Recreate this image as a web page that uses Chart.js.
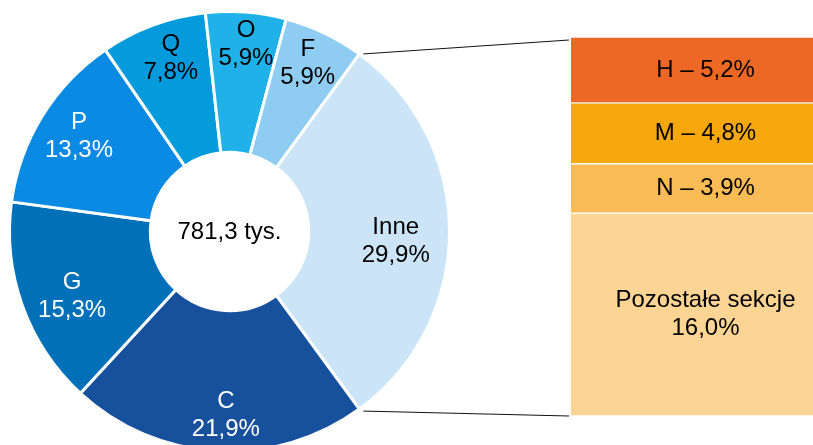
<!DOCTYPE html>
<html>
<head>
<meta charset="utf-8">
<script src="https://cdn.jsdelivr.net/npm/chart.js@4.4.1/dist/chart.umd.min.js"></script>
<style>
  html, body { margin: 0; padding: 0; background: #fff; overflow: hidden; width: 813px; height: 445px; }
  canvas { position: absolute; left: 0; top: 0; }
</style>
</head>
<body>
<canvas id="donut" width="813" height="470"></canvas>
<canvas id="bar" width="840" height="445"></canvas>
<script>
const sections = ['Inne', 'C', 'G', 'P', 'Q', 'O', 'F'];
const shares = [29.9, 21.9, 15.3, 13.3, 7.8, 5.9, 5.9];
const otherSections = ['H', 'M', 'N', 'Pozostałe sekcje'];
const otherShares = [5.2, 4.8, 3.9, 16.0];
const totalLabel = '781,3 tys.';

const sliceColors = ['#cce4f7', '#17519e', '#0070b8', '#0a8ae2', '#049bdc', '#1fb1e7', '#8ecdf1'];
const sliceText = ['#000', '#fff', '#fff', '#fff', '#000', '#000', '#000'];
// label placement inside the ring: depth (0 = inner edge, 1 = outer) and angle nudge in degrees
const labelDepth = [0.62, 0.744, 0.646, 0.703, 0.734, 0.774, 0.754];
const labelTurn = [3.3, -2.1, -2.5, 0.7, 1.6, 0.7, -0.6];
const barColors = ['#ec6824', '#f5a70b', '#f8bb56', '#fcd493'];

const FONT = '24px "Liberation Sans", Arial, sans-serif';
const fmt = v => v.toFixed(1).replace('.', ',') + '%';

// "Inne" centred at 3 o'clock
const rotation = 90 - shares[0] / 100 * 180;

const sliceLabels = {
  id: 'sliceLabels',
  afterDatasetsDraw(chart) {
    const ctx = chart.ctx;
    const arcs = chart.getDatasetMeta(0).data;
    ctx.save();
    ctx.font = FONT;
    ctx.textAlign = 'center';
    ctx.textBaseline = 'middle';
    arcs.forEach((arc, i) => {
      const p = arc.getProps(['x', 'y', 'startAngle', 'endAngle', 'innerRadius', 'outerRadius'], true);
      const mid = (p.startAngle + p.endAngle) / 2 + labelTurn[i] * Math.PI / 180;
      const r = p.innerRadius + (p.outerRadius - p.innerRadius) * labelDepth[i];
      const x = p.x + r * Math.cos(mid);
      const y = p.y + r * Math.sin(mid);
      ctx.fillStyle = sliceText[i];
      ctx.fillText(sections[i], x, y - 14);
      ctx.fillText(fmt(shares[i]), x, y + 14);
    });
    const c = arcs[0];
    ctx.fillStyle = '#000';
    ctx.fillText(totalLabel, c.x, c.y + 1);
    ctx.restore();
  }
};

const donut = new Chart(document.getElementById('donut'), {
  type: 'doughnut',
  data: {
    labels: sections,
    datasets: [{
      data: shares,
      backgroundColor: sliceColors,
      borderColor: '#fff',
      borderWidth: 3,
      hoverOffset: 0
    }]
  },
  options: {
    responsive: false,
    animation: false,
    rotation: rotation,
    cutout: '36%',
    layout: { padding: { left: 8, top: 10, right: 362, bottom: 17 } },
    plugins: { legend: { display: false }, tooltip: { enabled: false } }
  },
  plugins: [sliceLabels]
});

const barLabels = {
  id: 'barLabels',
  afterDatasetsDraw(chart) {
    const ctx = chart.ctx;
    ctx.save();
    ctx.font = FONT;
    ctx.textAlign = 'center';
    ctx.textBaseline = 'middle';
    ctx.fillStyle = '#000';
    chart.data.datasets.forEach((ds, i) => {
      const el = chart.getDatasetMeta(i).data[0];
      const cy = (el.y + el.base) / 2;
      if (otherSections[i].length > 1) {
        ctx.fillText(otherSections[i], el.x, cy - 14);
        ctx.fillText(fmt(otherShares[i]), el.x, cy + 14);
      } else {
        ctx.fillText(otherSections[i] + ' – ' + fmt(otherShares[i]), el.x, cy);
      }
    });

    // connector lines from the "Inne" slice to the bar
    const arc = donut.getDatasetMeta(0).data[0];
    const a = arc.getProps(['x', 'y', 'startAngle', 'endAngle', 'outerRadius'], true);
    const area = chart.chartArea;
    ctx.strokeStyle = '#111';
    ctx.lineWidth = 1;
    ctx.beginPath();
    ctx.moveTo(a.x + a.outerRadius * Math.cos(a.startAngle) + 4, a.y + a.outerRadius * Math.sin(a.startAngle));
    ctx.lineTo(area.left - 2, area.top + 3);
    ctx.moveTo(a.x + a.outerRadius * Math.cos(a.endAngle) + 4, a.y + a.outerRadius * Math.sin(a.endAngle) + 2);
    ctx.lineTo(area.left - 2, area.bottom);
    ctx.stroke();
    ctx.restore();
  }
};

new Chart(document.getElementById('bar'), {
  type: 'bar',
  data: {
    labels: [''],
    datasets: otherSections.map((s, i) => ({
      label: s,
      data: [otherShares[i]],
      backgroundColor: barColors[i],
      borderColor: '#fff',
      borderWidth: { top: 1, bottom: 1, left: 0, right: 0 },
      borderSkipped: false,
      barPercentage: 1,
      categoryPercentage: 1
    }))
  },
  options: {
    responsive: false,
    animation: false,
    layout: { padding: { left: 571, top: 37, right: 0, bottom: 29 } },
    scales: {
      x: { display: false, stacked: true },
      y: { display: false, stacked: true, reverse: true, min: 0, max: otherShares.reduce((s, v) => s + v, 0) }
    },
    plugins: { legend: { display: false }, tooltip: { enabled: false } }
  },
  plugins: [barLabels]
});
</script>
</body>
</html>
